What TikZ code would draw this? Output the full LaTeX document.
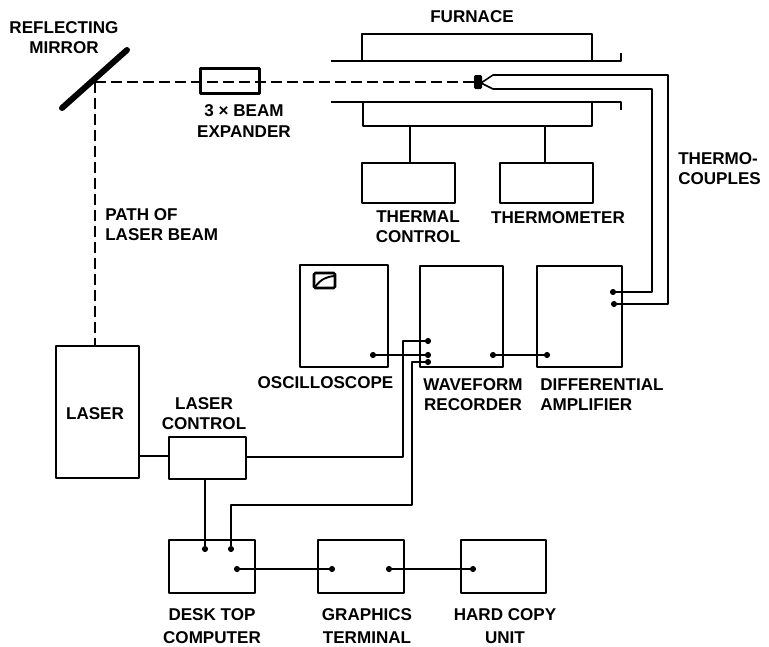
\documentclass[tikz,border=0pt]{standalone}
\usepackage{fontspec}
\setmainfont{Liberation Sans}
\tikzset{
 px/.style={x=0.75pt,y=-0.75pt},
 box/.style={draw=black,line width=1.9pt,line join=round},
 wire/.style={draw=black,line width=1.2pt,line join=round},
 beam/.style={draw=black,line width=1.2pt,dash pattern=on 8pt off 4pt},
 lbl/.style={font=\fontsize{12.8pt}{15pt}\selectfont\bfseries,align=center,inner sep=0pt,text=black},
 pin/.style={circle,fill=black,inner sep=0pt,minimum size=4.6pt},
}
\begin{document}
\begin{tikzpicture}[px]
\useasboundingbox (0,0) rectangle (769,647);
% coordinates
\coordinate (mirA) at (62,108);
\coordinate (mirB) at (127,50);
\coordinate (turn) at (95,82);
% expander
\node[box,minimum width=44.5pt,minimum height=18.75pt,inner sep=0pt] (exp) at (230,81) {};
% furnace
\draw[box] (362,61) -- (362,34) -- (592,34) -- (592,61);
\draw[box] (363,102) -- (363,126) -- (592,126) -- (592,102);
\draw[box] (331,61) -- (621,61) -- (621,53);
\draw[box] (331,102) -- (621,102) -- (621,110);
\node[lbl] (furn) at (472,16.5) {FURNACE};
\node[box,minimum width=69.75pt,minimum height=30pt,inner sep=0pt] (tcb) at (408.5,183) {};
\node[box,minimum width=69.75pt,minimum height=30pt,inner sep=0pt] (tmb) at (546.5,183) {};
\draw[wire,line width=1.4pt] (410,126) -- (tcb.north -| 410,0);
\draw[wire,line width=1.4pt] (545,126) -- (tmb.north -| 545,0);
\node[lbl] (tcl) at (418,227) {THERMAL\\CONTROL};
\node[lbl] (tm) at (558,217.5) {THERMOMETER};
% main row
\draw[box] (300,265) rectangle (388,367);
\draw[box] (420,266) rectangle (503,367);
\draw[box] (537,266) rectangle (622,367);
\draw[line width=1.9pt,rounded corners=1pt] (314,273) rectangle (335,288);
\draw[line width=1.4pt] (315,287) .. controls (321,279) and (326,277) .. (334,276);
\node[lbl] (osc) at (325.5,382.5) {OSCILLOSCOPE};
\node[lbl] (wr) at (473,395) {WAVEFORM\\RECORDER};
\node[lbl,align=left,anchor=west] (da) at (540,395) {DIFFERENTIAL\\AMPLIFIER};
% laser
\node[box,minimum width=62.25pt,minimum height=99pt,inner sep=0pt] (lasb) at (97.5,412) {};
\node[lbl] (las) at (95,413.5) {LASER};
\node[box,minimum width=57.75pt,minimum height=31.5pt,inner sep=0pt] (lcb) at (207.5,458) {};
\node[lbl] (lc) at (204,413.5) {LASER\\CONTROL};
% bottom
\node[box,minimum width=64.5pt,minimum height=39.75pt,inner sep=0pt] (dtb) at (212,566.5) {};
\node[box,minimum width=64.5pt,minimum height=39.75pt,inner sep=0pt] (gtb) at (361,566.5) {};
\node[box,minimum width=63.75pt,minimum height=39.75pt,inner sep=0pt] (hcb) at (503.5,566.5) {};
\node[lbl] (dt) at (212,626) {DESK TOP\\[1.7pt]COMPUTER};
\node[lbl] (gt) at (367,626) {GRAPHICS\\[1.7pt]TERMINAL};
\node[lbl] (hc) at (505,626) {HARD COPY\\[1.7pt]UNIT};
% optics
\draw[line width=4.5pt,line cap=round] (mirA) -- (mirB);
\draw[beam] (turn) -- (475,82);
\draw[beam] (turn) -- (lasb.north -| turn);
\node[lbl] (bx) at (244,121.5) {3 × BEAM\\[0.8pt]EXPANDER};
\node[lbl,align=left,anchor=west] (pth) at (105,225) {PATH OF\\LASER BEAM};
\node[lbl] (rm) at (64,37.5) {REFLECTING\\MIRROR};
\node[lbl,align=left,anchor=west] (th) at (678,169) {THERMO-\\COUPLES};
% thermocouple
\fill[rounded corners=1pt] (474,75) rectangle (482,89);
\draw[wire] (481,83) -- (493,75) -- (668,75) -- (668,304) -- (614,304);
\draw[wire] (481,83) -- (493,89) -- (652,89) -- (652,292) -- (613,292);
\node[pin] (p1) at (614,304) {};
\node[pin] (p2) at (613,292) {};
% signals
\node[pin] (o1) at (373,355) {};
\node[pin] (w1) at (428,355) {};
\node[pin] (w2) at (428,341) {};
\node[pin] (w3) at (428,362) {};
\node[pin] (w4) at (493,355) {};
\node[pin] (d1) at (547,355) {};
\node[pin] (k1) at (205,549) {};
\node[pin] (k2) at (231,549) {};
\node[pin] (k3) at (237,569) {};
\node[pin] (g1) at (332,569) {};
\node[pin] (g2) at (389,569) {};
\node[pin] (h1) at (473,569) {};
\draw[wire] (o1) -- (w1);
\draw[wire] (w4) -- (d1);
\draw[wire] (lcb.east |- 0,457) -- (403,457) -- (403,341) -- (w2);
\draw[wire] (k2) -- (231,505) -- (412,505) -- (412,362) -- (w3);
\draw[wire,line width=1.4pt] (lasb.east |- 0,456) -- (lcb.west |- 0,456);
\draw[wire,line width=1.6pt] (lcb.south -| k1) -- (k1);
\draw[wire] (k3) -- (g1);
\draw[wire] (g2) -- (h1);
\end{tikzpicture}
\end{document}
